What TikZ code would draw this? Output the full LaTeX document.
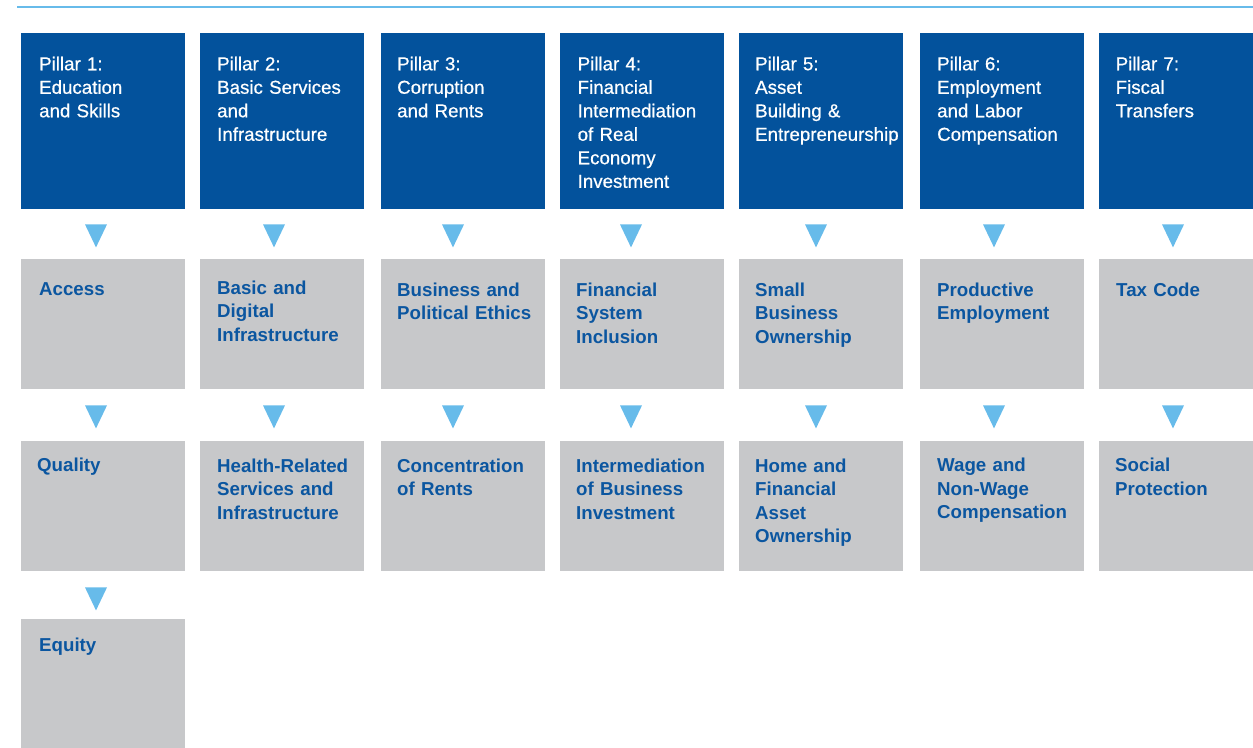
\documentclass[tikz,border=0pt]{standalone}
\usepackage{fontspec}
\setmainfont{Liberation Sans}
\newfontfamily\pillarfont{Liberation Sans}[BoldFont=Liberation Sans,BoldFeatures={FakeBold=0.6}]
\usetikzlibrary{positioning,calc}
\definecolor{pillarblue}{HTML}{03529C}
\definecolor{boxgray}{HTML}{C7C8CA}
\definecolor{arrowblue}{HTML}{67BBEA}
\definecolor{textblue}{HTML}{0B56A0}
\begin{document}
\begin{tikzpicture}
    [
    x=1pt,y=1pt,
    pillar/.style={fill=pillarblue,anchor=north west,inner sep=0pt,minimum width=164pt,minimum height=176pt},
    item/.style={fill=boxgray,anchor=north west,inner sep=0pt,minimum width=164pt,minimum height=130pt},
    ptext/.style={text=white,inner sep=0pt,align=left,text width=150pt,font=\pillarfont\fontsize{18.7}{23.5}\selectfont\bfseries},
    itext/.style={text=textblue,inner sep=0pt,align=left,text width=150pt,font=\fontsize{18.7}{23.5}\selectfont\bfseries},
    down/.style={fill=arrowblue}
    ]
    \useasboundingbox (0,0) rectangle (1253,-747);
    \clip (0,0) rectangle (1253,-747);
    \coordinate (L0) at (17,-6.5);
    \coordinate (L1) at (1253,-6.5);
    \draw [arrowblue,line width=2pt] (L0) -- (L1);
    % pillars
    \node (P1) at (21,-33) [pillar] {};
    \node (P2) at (200,-33) [pillar] {};
    \node (P3) at (381,-33) [pillar] {};
    \node (P4) at (560,-33) [pillar] {};
    \node (P5) at (739,-33) [pillar] {};
    \node (P6) at (920,-33) [pillar] {};
    \node (P7) at (1099,-33) [pillar] {};
    \node (P1t) [ptext,below right=23.5pt and 18pt of P1.north west] {Pillar 1:\\Education\\and Skills};
    \node (P2t) [ptext,below right=23.5pt and 17pt of P2.north west] {Pillar 2:\\Basic Services\\and\\Infrastructure};
    \node (P3t) [ptext,below right=23.5pt and 16pt of P3.north west] {Pillar 3:\\Corruption\\and Rents};
    \node (P4t) [ptext,below right=23.5pt and 17.5pt of P4.north west] {Pillar 4:\\Financial\\Intermediation\\of Real\\Economy\\Investment};
    \node (P5t) [ptext,below right=23.5pt and 16pt of P5.north west] {Pillar 5:\\Asset\\Building \&\\Entrepreneurship};
    \node (P6t) [ptext,below right=23.5pt and 17pt of P6.north west] {Pillar 6:\\Employment\\and Labor\\Compensation};
    \node (P7t) [ptext,below right=23.5pt and 16.5pt of P7.north west] {Pillar 7:\\Fiscal\\Transfers};
    % first row
    \node (A1) at (21,-259) [item] {};
    \node (A2) at (200,-259) [item] {};
    \node (A3) at (381,-259) [item] {};
    \node (A4) at (560,-259) [item] {};
    \node (A5) at (739,-259) [item] {};
    \node (A6) at (920,-259) [item] {};
    \node (A7) at (1099,-259) [item] {};
    \node (A1t) [itext,below right=23.5pt and 18pt of A1.north west] {Access};
    \node (A2t) [itext,below right=21.5pt and 17pt of A2.north west] {Basic and\\Digital\\Infrastructure};
    \node (A3t) [itext,below right=23.5pt and 16pt of A3.north west] {Business and\\Political Ethics};
    \node (A4t) [itext,below right=23.5pt and 16pt of A4.north west] {Financial\\System\\Inclusion};
    \node (A5t) [itext,below right=23.5pt and 16pt of A5.north west] {Small\\Business\\Ownership};
    \node (A6t) [itext,below right=23.5pt and 17pt of A6.north west] {Productive\\Employment};
    \node (A7t) [itext,below right=24pt and 17pt of A7.north west] {Tax Code};
    % second row
    \node (B1) at (21,-441) [item] {};
    \node (B2) at (200,-441) [item] {};
    \node (B3) at (381,-441) [item] {};
    \node (B4) at (560,-441) [item] {};
    \node (B5) at (739,-441) [item] {};
    \node (B6) at (920,-441) [item] {};
    \node (B7) at (1099,-441) [item] {};
    \node (B1t) [itext,below right=16.5pt and 16pt of B1.north west] {Quality};
    \node (B2t) [itext,below right=17.5pt and 17pt of B2.north west] {Health-Related\\Services and\\Infrastructure};
    \node (B3t) [itext,below right=17.5pt and 16pt of B3.north west] {Concentration\\of Rents};
    \node (B4t) [itext,below right=17.5pt and 16pt of B4.north west] {Intermediation\\of Business\\Investment};
    \node (B5t) [itext,below right=17.5pt and 16pt of B5.north west] {Home and\\Financial\\Asset\\Ownership};
    \node (B6t) [itext,below right=17pt and 17pt of B6.north west] {Wage and\\Non-Wage\\Compensation};
    \node (B7t) [itext,below right=17pt and 16pt of B7.north west] {Social\\Protection};
    % third row
    \node (C1) at (21,-619) [item] {};
    \node (C1t) [itext,below right=19pt and 18pt of C1.north west] {Equity};
    % triangles
    \fill [down] ($(P1.south west)+(64,-15)$) -- ++(22,0) -- ++(-11,-23) -- cycle;
    \fill [down] ($(P2.south west)+(63,-15)$) -- ++(22,0) -- ++(-11,-23) -- cycle;
    \fill [down] ($(P3.south west)+(61,-15)$) -- ++(22,0) -- ++(-11,-23) -- cycle;
    \fill [down] ($(P4.south west)+(60,-15)$) -- ++(22,0) -- ++(-11,-23) -- cycle;
    \fill [down] ($(P5.south west)+(66,-15)$) -- ++(22,0) -- ++(-11,-23) -- cycle;
    \fill [down] ($(P6.south west)+(63,-15)$) -- ++(22,0) -- ++(-11,-23) -- cycle;
    \fill [down] ($(P7.south west)+(63,-15)$) -- ++(22,0) -- ++(-11,-23) -- cycle;
    \fill [down] ($(A1.south west)+(64,-16)$) -- ++(22,0) -- ++(-11,-23) -- cycle;
    \fill [down] ($(A2.south west)+(63,-16)$) -- ++(22,0) -- ++(-11,-23) -- cycle;
    \fill [down] ($(A3.south west)+(61,-16)$) -- ++(22,0) -- ++(-11,-23) -- cycle;
    \fill [down] ($(A4.south west)+(60,-16)$) -- ++(22,0) -- ++(-11,-23) -- cycle;
    \fill [down] ($(A5.south west)+(66,-16)$) -- ++(22,0) -- ++(-11,-23) -- cycle;
    \fill [down] ($(A6.south west)+(63,-16)$) -- ++(22,0) -- ++(-11,-23) -- cycle;
    \fill [down] ($(A7.south west)+(63,-16)$) -- ++(22,0) -- ++(-11,-23) -- cycle;
    \fill [down] ($(B1.south west)+(64,-16)$) -- ++(22,0) -- ++(-11,-23) -- cycle;
\end{tikzpicture}
\end{document}
